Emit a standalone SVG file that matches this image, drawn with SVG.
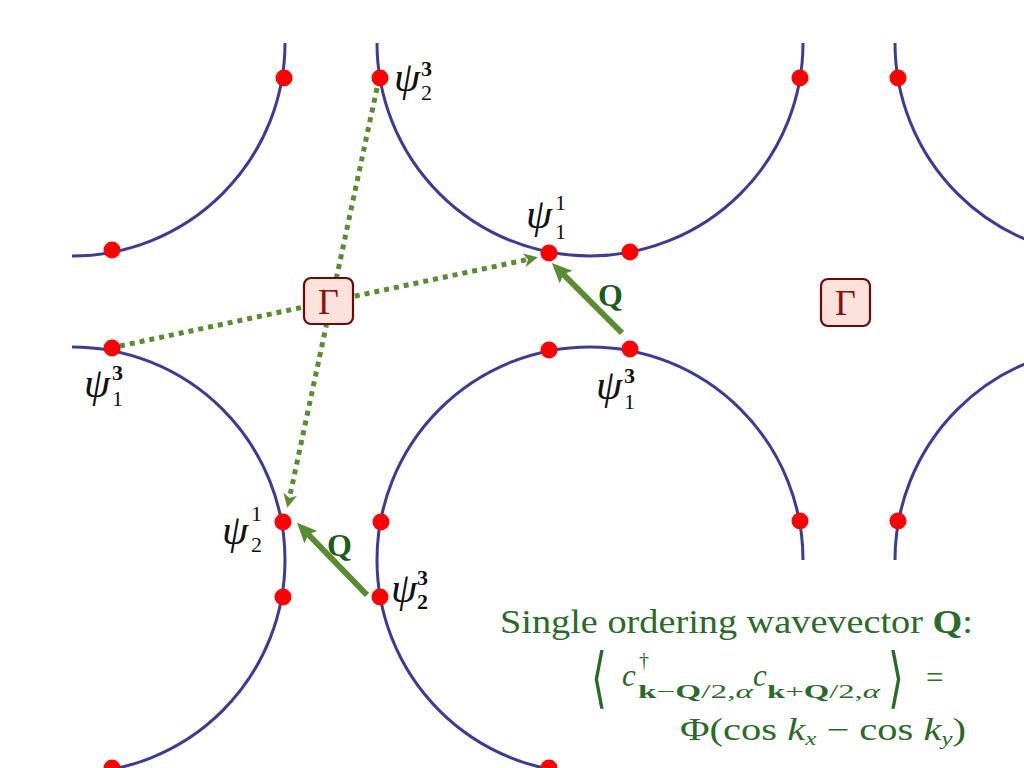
<svg xmlns="http://www.w3.org/2000/svg" width="1024" height="768" viewBox="0 0 1024 768">
<style>
.fs{fill:none;stroke:#3c3c94;stroke-width:3}
.dot{fill:#ff0000}
.dash{fill:none;stroke:#5a8c32;stroke-width:5;stroke-dasharray:5 5}
.qline{fill:none;stroke:#5a8c32;stroke-width:6}
.psi{font-family:"Liberation Serif","DejaVu Serif",serif;font-style:italic;font-size:42px;fill:#111}
.idx{font-family:"Liberation Serif","DejaVu Serif",serif;font-size:22px;fill:#111}
.b{font-weight:bold}
.qlab{font-family:"Liberation Serif","DejaVu Serif",serif;font-weight:bold;font-size:32px;fill:#1f5a1f}
.gbox{fill:#fbe2db;stroke:#6b0808;stroke-width:2.2}
.gam{font-family:"Liberation Serif","DejaVu Serif",serif;font-size:36px;fill:#8b1010;text-anchor:middle}
.txt{font-family:"Liberation Serif","DejaVu Serif",serif;fill:#2a6a2a}
</style>
<defs>
<marker id="dArrow" viewBox="0 0 14 14" refX="6" refY="7" markerWidth="14" markerHeight="14" markerUnits="userSpaceOnUse" orient="auto">
<path d="M0,0 L14,7 L0,14 L4,7 Z" fill="#5a8c32"/>
</marker>
<marker id="qArrow" viewBox="0 0 20 20" refX="10" refY="10" markerWidth="20" markerHeight="20" markerUnits="userSpaceOnUse" orient="auto">
<path d="M0,1 L20,10 L0,19 L4,10 Z" fill="#5a8c32"/>
</marker>
</defs>
<rect width="1024" height="768" fill="#ffffff"/>
<g id="fermi-surface">
<path class="fs" d="M285,43 A213,213 0 0 1 72,256"/>
<path class="fs" d="M377,43 A213,213 0 0 0 803,43"/>
<path class="fs" d="M895,43 A213,213 0 0 0 1108,256"/>
<path class="fs" d="M72,347 A213,213 0 0 1 72,773"/>
<path class="fs" d="M590,773 A213,213 0 1 1 803,560"/>
<path class="fs" d="M1108,347 A213,213 0 0 0 895,560"/>
</g>
<g id="connectors">
<line class="dash" x1="120" y1="346" x2="530" y2="259" marker-end="url(#dArrow)"/>
<line class="dash" x1="377" y1="88" x2="289" y2="500" marker-end="url(#dArrow)"/>
<line class="qline" x1="622" y1="333" x2="559" y2="270" marker-end="url(#qArrow)"/>
<line class="qline" x1="367" y1="595" x2="304" y2="530" marker-end="url(#qArrow)"/>
<text class="qlab" x="598" y="306">Q</text>
<text class="qlab" x="327" y="556">Q</text>
</g>
<g id="dots">
<circle class="dot" cx="284" cy="78" r="8.5"/>
<circle class="dot" cx="800" cy="78" r="8.5"/>
<circle class="dot" cx="898" cy="78" r="8.5"/>
<circle class="dot" cx="112" cy="250" r="8.5"/>
<circle class="dot" cx="630" cy="252" r="8.5"/>
<circle class="dot" cx="549" cy="350" r="8.5"/>
<circle class="dot" cx="381" cy="522" r="8.5"/>
<circle class="dot" cx="800" cy="521" r="8.5"/>
<circle class="dot" cx="898" cy="521" r="8.5"/>
<circle class="dot" cx="283" cy="597" r="8.5"/>
<circle class="dot" cx="112" cy="768" r="8.5"/>
<circle class="dot" cx="549" cy="768" r="8.5"/>
</g>
<g id="psi2-3-top">
<circle class="dot" cx="380" cy="78" r="8.5"/>
<text class="psi" x="394" y="91">ψ</text>
<text class="idx b" x="421" y="76">3</text>
<text class="idx" x="421" y="100">2</text>
</g>
<g id="psi1-1">
<circle class="dot" cx="549" cy="253" r="8.5"/>
<text class="psi" x="526" y="228">ψ</text>
<text class="idx" x="555" y="210">1</text>
<text class="idx" x="555" y="239">1</text>
</g>
<g id="psi1-3-left">
<circle class="dot" cx="112" cy="348" r="8.5"/>
<text class="psi" x="84" y="397">ψ</text>
<text class="idx b" x="112" y="380">3</text>
<text class="idx" x="112" y="406">1</text>
</g>
<g id="psi1-3-right">
<circle class="dot" cx="630" cy="349" r="8.5"/>
<text class="psi" x="596" y="399">ψ</text>
<text class="idx b" x="624" y="383">3</text>
<text class="idx" x="624" y="409">1</text>
</g>
<g id="psi2-1">
<circle class="dot" cx="283" cy="522" r="8.5"/>
<text class="psi" x="222" y="544">ψ</text>
<text class="idx" x="251" y="521">1</text>
<text class="idx" x="251" y="552">2</text>
</g>
<g id="psi2-3-bottom">
<circle class="dot" cx="380" cy="597" r="8.5"/>
<text class="psi" x="391" y="602">ψ</text>
<text class="idx b" x="417" y="585">3</text>
<text class="idx b" x="417" y="609">2</text>
</g>
<g id="gamma-1">
<rect class="gbox" x="304" y="278" width="49" height="46" rx="7"/>
<text class="gam" x="328.5" y="314">Γ</text>
</g>
<g id="gamma-2">
<rect class="gbox" x="821" y="279" width="49" height="47" rx="7"/>
<text class="gam" x="845.5" y="315">Γ</text>
</g>
<g id="caption">
<text class="txt" x="500" y="633" font-size="33" textLength="473" lengthAdjust="spacingAndGlyphs">Single ordering wavevector <tspan font-weight="bold">Q</tspan>:</text>
<text class="txt" x="591" y="700" font-size="66" font-family="DejaVu Sans" transform="translate(591,700) scale(0.62,1) translate(-591,-700)">⟨</text>
<text class="txt" x="622" y="686" font-size="31" font-style="italic">c</text>
<text class="txt" x="639" y="667" font-size="20">†</text>
<text class="txt" x="638" y="698" font-size="19" textLength="115" lengthAdjust="spacingAndGlyphs"><tspan font-weight="bold">k</tspan>−<tspan font-weight="bold">Q</tspan>/2,<tspan font-style="italic">α</tspan></text>
<text class="txt" x="753" y="686" font-size="31" font-style="italic">c</text>
<text class="txt" x="767" y="698" font-size="19" textLength="113" lengthAdjust="spacingAndGlyphs"><tspan font-weight="bold">k</tspan>+<tspan font-weight="bold">Q</tspan>/2,<tspan font-style="italic">α</tspan></text>
<text class="txt" x="888" y="700" font-size="66" font-family="DejaVu Sans" transform="translate(888,700) scale(0.62,1) translate(-888,-700)">⟩</text>
<text class="txt" x="926" y="688" font-size="31">=</text>
<text class="txt" x="680" y="740" font-size="31" textLength="286" lengthAdjust="spacingAndGlyphs">Φ(cos <tspan font-style="italic">k</tspan><tspan font-size="19" font-style="italic" dy="5">x</tspan><tspan dy="-5"> − cos </tspan><tspan font-style="italic">k</tspan><tspan font-size="19" font-style="italic" dy="5">y</tspan><tspan dy="-5">)</tspan></text>
</g>
</svg>
